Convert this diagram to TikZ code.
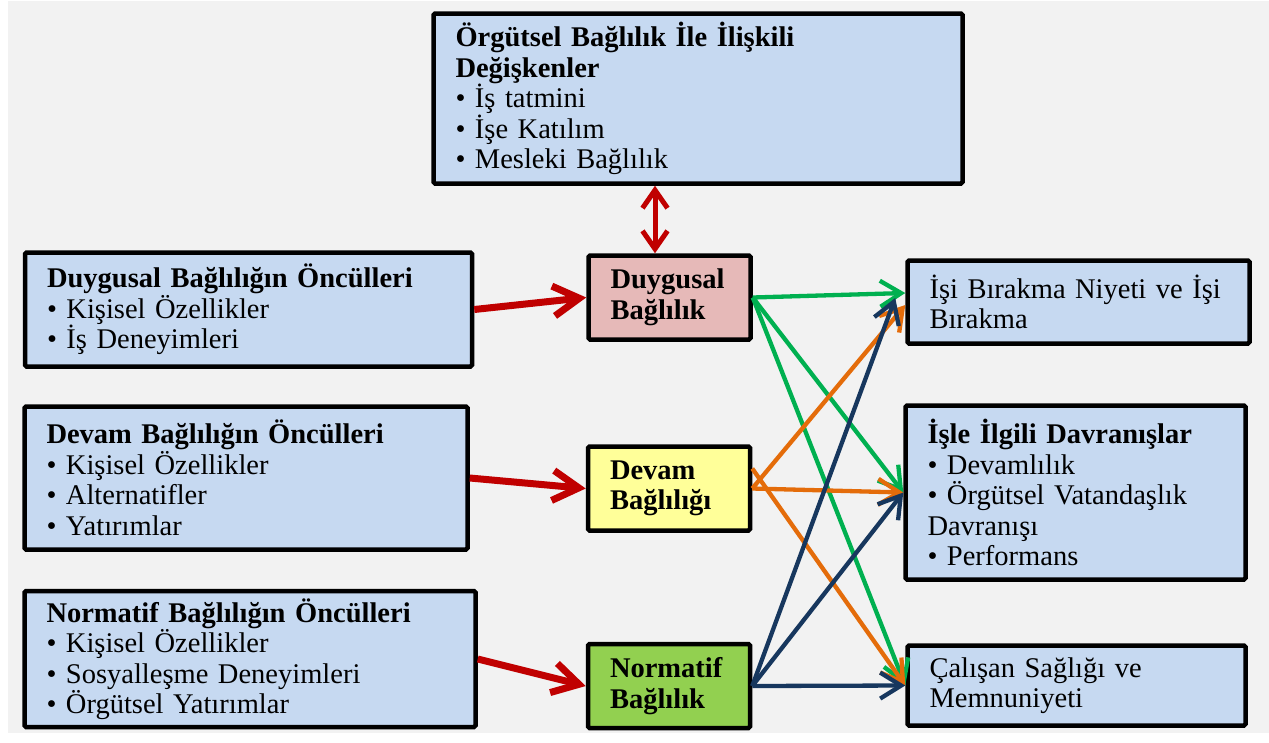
\documentclass[tikz,border=0pt]{standalone}
\usepackage{fontspec}
\setmainfont{Liberation Serif}
\usepackage{xcolor}
\usetikzlibrary{arrows.meta,calc}
\definecolor{bggray}{HTML}{F2F2F2}
\definecolor{boxblue}{HTML}{C6D9F1}
\definecolor{boxpink}{HTML}{E6B9B8}
\definecolor{boxyellow}{HTML}{FFFF99}
\definecolor{boxgreen}{HTML}{92D050}
\definecolor{arrowred}{HTML}{C00000}
\definecolor{affgreen}{HTML}{00B050}
\definecolor{contorange}{HTML}{E46C0A}
\definecolor{normnavy}{HTML}{17375E}
\newcommand\boxfont{\fontsize{28.5}{30.5}\selectfont}
\tikzset{
  frame/.style={draw=black, line width=4.5pt, rounded corners=1.5pt, inner xsep=22pt, inner ysep=0pt, align=left, font=\boxfont},
  midframe/.style={frame, text width=118pt, minimum height=84pt},
  feed/.style={draw=arrowred, line width=7pt, -{Straight Barb[length=26pt,width=30pt]}},
  twoway/.style={draw=arrowred, line width=5pt, {Straight Barb[length=18pt,width=25pt]}-{Straight Barb[length=18pt,width=25pt]}},
  link/.style={line width=4.3pt, -{Straight Barb[length=21pt,width=26pt]}}
}

\begin{document}
\begin{tikzpicture}[x=1pt,y=-1pt]
  \useasboundingbox (0,0) rectangle (1269,742);
  \fill[bggray] (8,1) rectangle (1269,733);

  % Boxes
  \node[frame, fill=boxblue, text width=485pt, minimum height=170pt] (degisken) at (698,98.5)
    {\textbf{Örgütsel Bağlılık İle İlişkili}\\\textbf{Değişkenler}\\• İş tatmini\\• İşe Katılım\\• Mesleki Bağlılık};
  \node[frame, fill=boxblue, text width=403pt, minimum height=114pt] (duyOnc) at (248.5,309.5)
    {\textbf{Duygusal Bağlılığın Öncülleri}\\• Kişisel Özellikler\\• İş Deneyimleri};
  \node[frame, fill=boxblue, text width=399pt, minimum height=143pt] (devOnc) at (246,478)
    {\textbf{Devam Bağlılığın Öncülleri}\\• Kişisel Özellikler\\• Alternatifler\\• Yatırımlar};
  \node[frame, fill=boxblue, text width=407pt, minimum height=136pt] (norOnc) at (250,659)
    {\textbf{Normatif Bağlılığın Öncülleri}\\• Kişisel Özellikler\\• Sosyalleşme Deneyimleri\\• Örgütsel Yatırımlar};

  \node[midframe, fill=boxpink] (duyBag) at (669.5,297.5) {\textbf{Duygusal}\\\textbf{Bağlılık}};
  \node[midframe, fill=boxyellow] (devBag) at (669,488.5) {\textbf{Devam}\\\textbf{Bağlılığı}};
  \node[midframe, fill=boxgreen] (norBag) at (669,686) {\textbf{Normatif}\\\textbf{Bağlılık}};

  \node[frame, fill=boxblue, text width=298pt, minimum height=83pt] (birakma) at (1078.5,302)
    {İşi Bırakma Niyeti ve İşi\\Bırakma};
  \node[frame, fill=boxblue, text width=296pt, minimum height=174pt] (davranis) at (1075.5,492.5)
    {\textbf{İşle İlgili Davranışlar}\\• Devamlılık\\• Örgütsel Vatandaşlık\\Davranışı\\• Performans};
  \node[frame, fill=boxblue, text width=294pt, minimum height=80pt] (saglik) at (1076.5,685.5)
    {Çalışan Sağlığı ve\\Memnuniyeti};

  % Arrows
  \draw[feed] (duyOnc.east) -- (duyBag.west);
  \draw[feed] (devOnc.east) -- (devBag.west);
  \draw[feed] (norOnc.east) -- (norBag.west);
  \coordinate (link) at (655,0);
  \draw[twoway] (degisken.south -| link) -- (duyBag.north -| link);

  \draw[link, draw=affgreen] (duyBag.east) -- ($(birakma.west)+(0,-9)$);
  \draw[link, draw=affgreen] (duyBag.east) -- (davranis.west);
  \draw[link, draw=affgreen] (duyBag.east) -- (saglik.west);

  \draw[link, draw=contorange] (devBag.east) -- ($(birakma.west)+(0,3)$);
  \draw[link, draw=contorange] (devBag.east) -- (davranis.west);
  \draw[link, draw=contorange] ($(devBag.east)+(0,-20)$) -- (saglik.west);

  \draw[link, draw=normnavy] (norBag.east) -- ($(birakma.west)+(-10,-4)$);
  \draw[link, draw=normnavy] (norBag.east) -- (davranis.west);
  \draw[link, draw=normnavy] (norBag.east) -- (saglik.west);
\end{tikzpicture}
\end{document}
